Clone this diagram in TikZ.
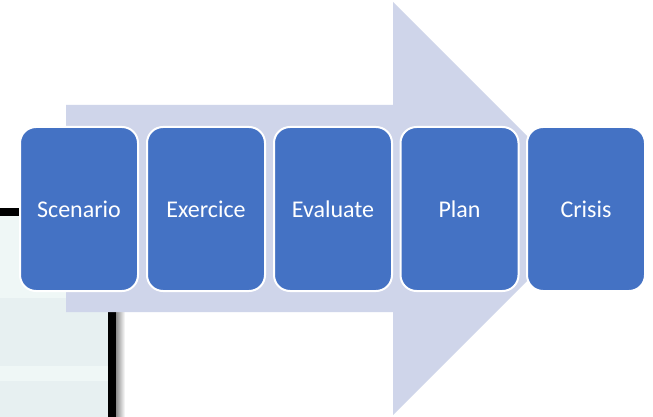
\documentclass[tikz,border=0pt]{standalone}
\usepackage{fontspec}
\setmainfont{Carlito}
\definecolor{arrowfill}{HTML}{CFD5EA}
\definecolor{boxfill}{HTML}{4472C4}
\definecolor{rowlight}{HTML}{EFF7F6}
\definecolor{rowdark}{HTML}{E7F0F1}
\begin{document}
\begin{tikzpicture}[x=1pt,y=-1pt,
  stepbox/.style={draw=white, line width=2pt, fill=boxfill, rounded corners=16pt,
    minimum width=118pt, minimum height=164pt, inner sep=0pt, text=white,
    font=\fontsize{24}{29}\selectfont}]
\useasboundingbox (0,0) rectangle (653,417);
\fill[white] (0,0) rectangle (653,417);
% background table fragment
\fill[rowlight] (0,216) rectangle (108.3,298);
\fill[rowdark] (0,298) rectangle (108.3,366);
\fill[rowlight] (0,366) rectangle (108.3,381);
\fill[rowdark] (0,381) rectangle (108.3,417);
\fill[black] (0,208.3) rectangle (70,215.7);
\shade[left color=black!45, right color=white] (116,312) rectangle (125,417);
\fill[black] (108.3,120) rectangle (116,417);
% big arrow
\fill[arrowfill] (66,105) -- (393,105) -- (393,2) -- (599.5,208.5) -- (393,415)
  -- (393,312) -- (66,312) -- cycle;
% steps
\node[stepbox] (s1) at (79,209) {Scenario};
\node[stepbox] (s2) at (206,209) {Exercice};
\node[stepbox] (s3) at (333,209) {Evaluate};
\node[stepbox] (s4) at (459.5,209) {Plan};
\node[stepbox] (s5) at (586,209) {Crisis};
\end{tikzpicture}
\end{document}
